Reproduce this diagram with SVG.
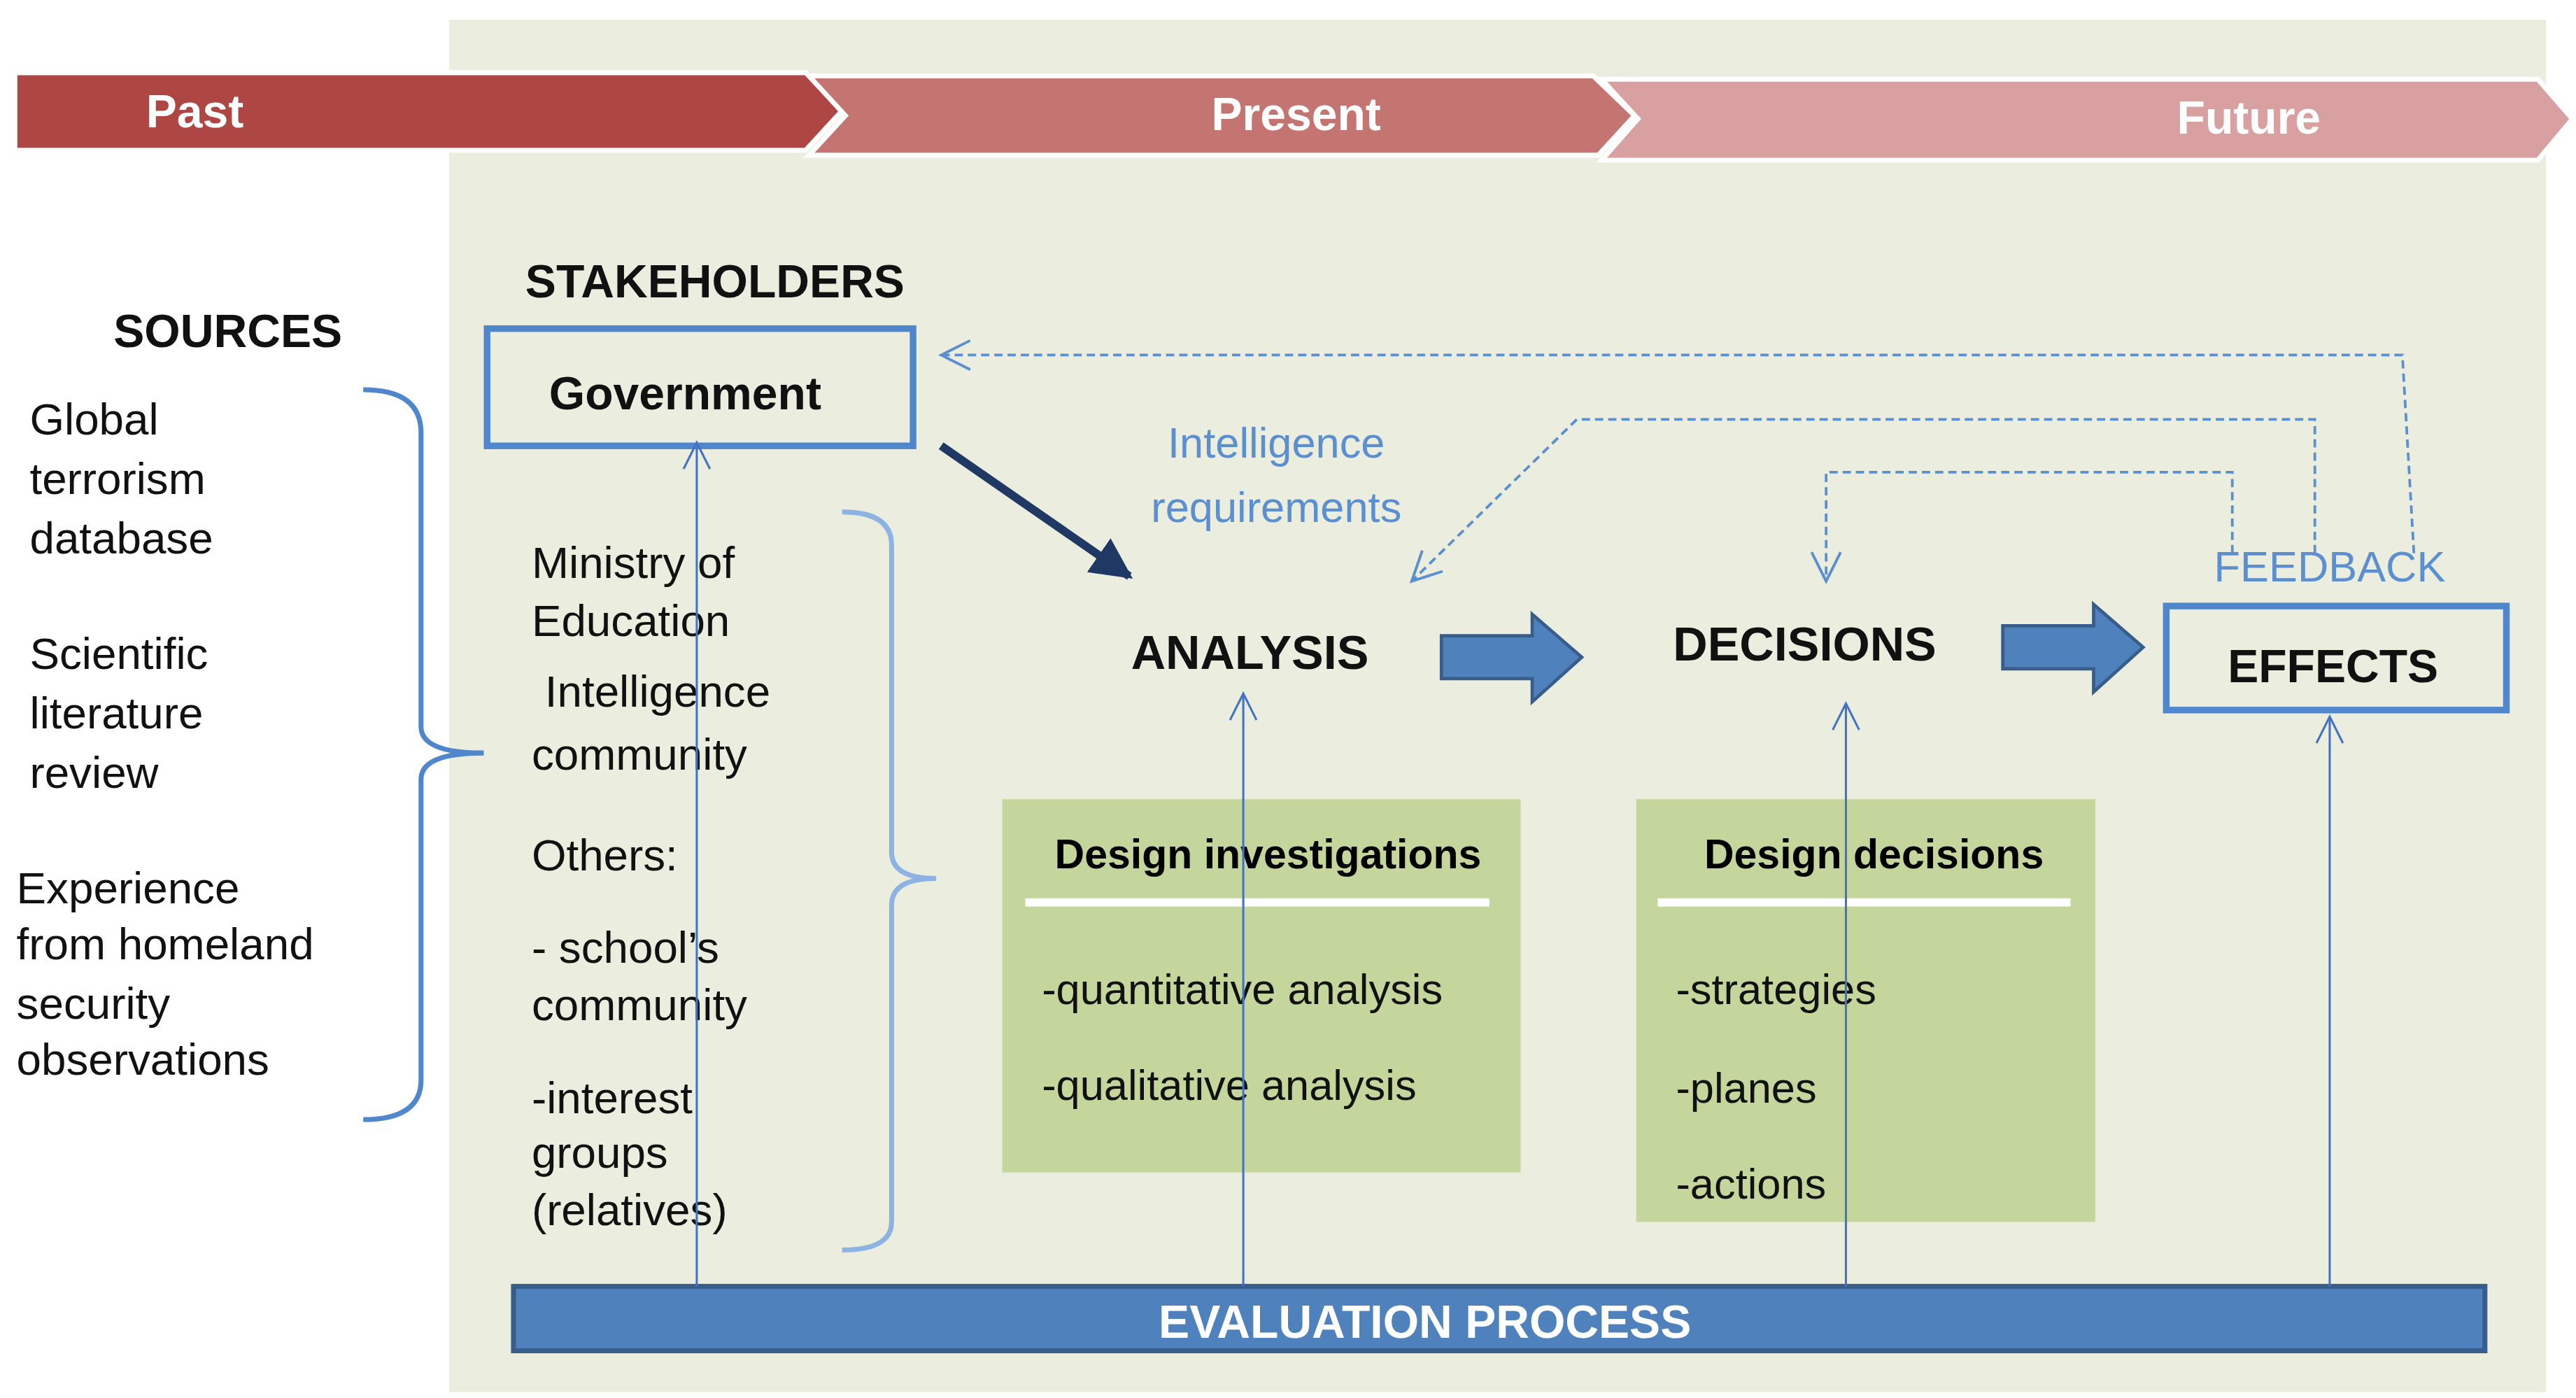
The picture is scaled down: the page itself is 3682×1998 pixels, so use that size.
<svg xmlns="http://www.w3.org/2000/svg" width="3682" height="1998" viewBox="0 0 3682 1998">
<defs>
<style>
text{font-family:"Liberation Sans","Open Sans",sans-serif;}
.b{font-weight:bold;}
.t{font-size:27px;fill:#111;}
.h{font-size:28px;font-weight:bold;fill:#111;}
.w{font-size:28px;font-weight:bold;fill:#fff;}
.bl{font-size:26px;fill:#5B8FD0;}
.thin{stroke:#4472C4;stroke-width:1.3;fill:none;}
.dash{stroke:#5B8FD0;stroke-width:1.6;fill:none;stroke-dasharray:5 3;}
.brace{stroke:#4F86CC;stroke-width:3;fill:none;}
.brace2{stroke:#8DB3E2;stroke-width:3;fill:none;}
</style>
<marker id="open" viewBox="0 0 20 20" refX="18" refY="10" markerWidth="20" markerHeight="20" markerUnits="userSpaceOnUse" orient="auto"><path d="M2,2 L18,10 L2,18" fill="none" stroke="#4472C4" stroke-width="1.3"/></marker>
<marker id="openb" viewBox="0 0 20 20" refX="18" refY="10" markerWidth="22" markerHeight="22" markerUnits="userSpaceOnUse" orient="auto"><path d="M2,2 L18,10 L2,18" fill="none" stroke="#5B8FD0" stroke-width="1.5"/></marker>
<marker id="solid" viewBox="0 0 10 10" refX="9" refY="5" markerWidth="5" markerHeight="5" orient="auto"><path d="M0,0 L10,5 L0,10 Z" fill="#1F3864"/></marker>
</defs>
<g transform="scale(2.36)">
<rect x="272" y="12" width="1270" height="831" fill="#EBEEDF"/>
<g id="timeline" stroke="#fff" stroke-width="3">
<polygon points="9,44 488,44 510,67 488,91 9,91" fill="#AE4744"/>
<polygon points="490,46 965,46 990,70 968,94 490,94 512,70" fill="#C47572"/>
<polygon points="970,48 1537,48 1558,72 1537,97 970,97 992,72" fill="#D8A0A0"/>
</g>
<text x="118" y="77" class="w" text-anchor="middle">Past</text>
<text x="785" y="79" class="w" text-anchor="middle">Present</text>
<text x="1362" y="81" class="w" text-anchor="middle">Future</text>
<text x="433" y="180" class="h" text-anchor="middle">STAKEHOLDERS</text>
<text x="138" y="210" class="h" text-anchor="middle">SOURCES</text>
<g id="sources" class="t">
<text x="18" y="263" class="t">Global</text>
<text x="18" y="299" class="t">terrorism</text>
<text x="18" y="335" class="t">database</text>
<text x="18" y="405" class="t">Scientific</text>
<text x="18" y="441" class="t">literature</text>
<text x="18" y="477" class="t">review</text>
<text x="10" y="547" class="t">Experience</text>
<text x="10" y="581" class="t">from homeland</text>
<text x="10" y="617" class="t">security</text>
<text x="10" y="651" class="t">observations</text>
</g>
<path class="brace" d="M220,236 Q255,236 255,262 L255,440 Q255,456 293,456 Q255,456 255,472 L255,654 Q255,678 220,678"/>
<g id="government"><rect x="295" y="199" width="258" height="71" fill="none" stroke="#4F86CC" stroke-width="4"/>
<text x="415" y="248" class="h" text-anchor="middle">Government</text></g>
<g id="stakeholders">
<text x="322" y="350" class="t">Ministry of</text>
<text x="322" y="385" class="t">Education</text>
<text x="330" y="428" class="t">Intelligence</text>
<text x="322" y="466" class="t">community</text>
<text x="322" y="527" class="t">Others:</text>
<text x="322" y="583" class="t">- school’s</text>
<text x="322" y="618" class="t">community</text>
<text x="322" y="674" class="t">-interest</text>
<text x="322" y="707" class="t">groups</text>
<text x="322" y="742" class="t">(relatives)</text>
</g>
<path class="brace2" d="M510,310 Q540,310 540,330 L540,516 Q540,532 567,532 Q540,532 540,548 L540,740 Q540,757 510,757"/>
<g id="analysis"><text x="757" y="405" class="h" text-anchor="middle" style="font-size:29px">ANALYSIS</text></g>
<g id="decisions"><text x="1093" y="400" class="h" text-anchor="middle" style="font-size:29px">DECISIONS</text></g>
<g id="effects"><rect x="1312" y="367" width="206" height="63" fill="none" stroke="#4F86CC" stroke-width="4"/>
<text x="1413" y="413" class="h" text-anchor="middle">EFFECTS</text></g>
<text x="773" y="277" class="bl" text-anchor="middle">Intelligence</text>
<text x="773" y="316" class="bl" text-anchor="middle">requirements</text>
<text x="1411" y="352" class="bl" text-anchor="middle">FEEDBACK</text>
<g id="inv"><rect x="607" y="484" width="314" height="226" fill="#C4D69B"/>
<text x="768" y="526" class="b" style="font-size:25px" text-anchor="middle">Design investigations</text>
<rect x="621" y="544" width="281" height="5" fill="#fff"/>
<text x="631" y="608" class="t" style="font-size:26px">-quantitative analysis</text>
<text x="631" y="666" class="t" style="font-size:26px">-qualitative analysis</text></g>
<g id="dec"><rect x="991" y="484" width="278" height="256" fill="#C4D69B"/>
<text x="1135" y="526" class="b" style="font-size:25px" text-anchor="middle">Design decisions</text>
<rect x="1004" y="544" width="250" height="5" fill="#fff"/>
<text x="1015" y="608" class="t" style="font-size:26px">-strategies</text>
<text x="1015" y="668" class="t" style="font-size:26px">-planes</text>
<text x="1015" y="726" class="t" style="font-size:26px">-actions</text></g>
<g id="evaluation"><rect x="311" y="779" width="1194" height="39" fill="#4F81BD" stroke="#385D8A" stroke-width="3"/>
<text x="863" y="810" class="w" text-anchor="middle">EVALUATION PROCESS</text></g>
<g id="connectors">
<polygon points="873,385 928,385 928,372 958,398 928,425 928,411 873,411" fill="#4F81BD" stroke="#385D8A" stroke-width="2"/>
<polygon points="1213,379 1268,379 1268,366 1298,392 1268,419 1268,405 1213,405" fill="#4F81BD" stroke="#385D8A" stroke-width="2"/>
<line x1="570" y1="270" x2="684" y2="349" stroke="#1F3864" stroke-width="5" marker-end="url(#solid)"/>
<polyline class="dash" points="1462,335 1455,215 570,215" marker-end="url(#openb)"/>
<polyline class="dash" points="1402,335 1402,254 955,254 855,352" marker-end="url(#openb)"/>
<polyline class="dash" points="1352,335 1352,286 1106,286 1106,352" marker-end="url(#openb)"/>
<line class="thin" x1="422" y1="779" x2="422" y2="268" marker-end="url(#open)"/>
<line class="thin" x1="753" y1="779" x2="753" y2="420" marker-end="url(#open)"/>
<line class="thin" x1="1118" y1="779" x2="1118" y2="426" marker-end="url(#open)"/>
<line class="thin" x1="1411" y1="779" x2="1411" y2="434" marker-end="url(#open)"/>
</g>
</g>
</svg>
